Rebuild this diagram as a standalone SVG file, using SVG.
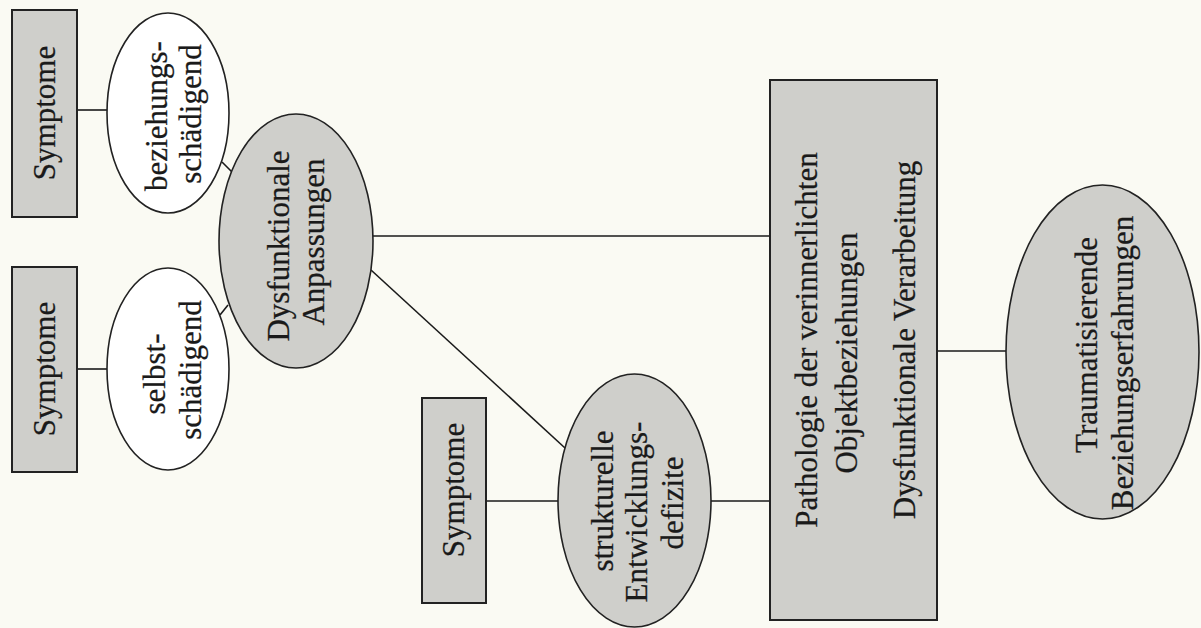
<svg xmlns="http://www.w3.org/2000/svg" width="1201" height="628" viewBox="0 0 1201 628">
  <style>
    .bg { fill: #fafaf3; }
    .box { fill: #cfcfcb; stroke: #222; stroke-width: 2; }
    .oval { fill: #cfcfcb; stroke: #222; stroke-width: 1.6; }
    .oval-w { fill: #ffffff; stroke: #222; stroke-width: 1.6; }
    .edge { stroke: #1a1a1a; stroke-width: 1.6; fill: none; }
    text { font-family: "Liberation Serif", "Times New Roman", serif; font-size: 31px; fill: #1a1a1a; stroke: #1a1a1a; stroke-width: 0.25; text-anchor: middle; }
  </style>
  <rect class="bg" x="0" y="0" width="1201" height="628"/>

  <!-- connectors -->
  <g id="connectors">
    <line class="edge" x1="77" y1="110" x2="107" y2="110"/>
    <line class="edge" x1="77" y1="369" x2="107" y2="369"/>
    <line class="edge" x1="222" y1="162" x2="232" y2="172"/>
    <line class="edge" x1="220" y1="315" x2="228" y2="305"/>
    <line class="edge" x1="373" y1="236" x2="770" y2="236"/>
    <line class="edge" x1="371" y1="270" x2="565" y2="448"/>
    <line class="edge" x1="486" y1="501" x2="558" y2="501"/>
    <line class="edge" x1="711" y1="501" x2="770" y2="501"/>
    <line class="edge" x1="937" y1="351" x2="1006" y2="351"/>
  </g>

  <!-- symptom boxes -->
  <g id="symptome-1">
    <rect class="box" x="12" y="10" width="65" height="207"/>
    <text transform="rotate(-90 55 113)" x="55" y="113">Symptome</text>
  </g>
  <g id="symptome-2">
    <rect class="box" x="12" y="267" width="65" height="205"/>
    <text transform="rotate(-90 55 369)" x="55" y="369">Symptome</text>
  </g>
  <g id="symptome-3">
    <rect class="box" x="422" y="398" width="64" height="205"/>
    <text transform="rotate(-90 464 490)" x="464" y="490">Symptome</text>
  </g>

  <!-- white ovals -->
  <g id="beziehungsschaedigend">
    <ellipse class="oval-w" cx="168" cy="113" rx="61" ry="100"/>
    <text transform="rotate(-90 167 116)" x="167" y="116">beziehungs-</text>
    <text transform="rotate(-90 201 114)" x="201" y="114">schädigend</text>
  </g>
  <g id="selbstschaedigend">
    <ellipse class="oval-w" cx="168" cy="369" rx="61" ry="101"/>
    <text transform="rotate(-90 165 374)" x="165" y="374">selbst-</text>
    <text transform="rotate(-90 201 370)" x="201" y="370">schädigend</text>
  </g>

  <!-- grey ovals -->
  <g id="dysfunktionale-anpassungen">
    <ellipse class="oval" cx="296" cy="241" rx="77" ry="127"/>
    <text transform="rotate(-90 289 246)" x="289" y="246">Dysfunktionale</text>
    <text transform="rotate(-90 324 242)" x="324" y="242">Anpassungen</text>
  </g>
  <g id="strukturelle-entwicklungsdefizite">
    <ellipse class="oval" cx="634.5" cy="500.5" rx="76.5" ry="126.5"/>
    <text transform="rotate(-90 613 501)" x="613" y="501">strukturelle</text>
    <text transform="rotate(-90 647 512)" x="647" y="512">Entwicklungs-</text>
    <text transform="rotate(-90 683 503)" x="683" y="503">defizite</text>
  </g>

  <!-- central box -->
  <g id="pathologie">
    <rect class="box" x="770" y="80" width="167" height="540"/>
    <text transform="rotate(-90 817 340)" x="817" y="340">Pathologie der verinnerlichten</text>
    <text transform="rotate(-90 857 353)" x="857" y="353">Objektbeziehungen</text>
    <text transform="rotate(-90 915 340)" x="915" y="340">Dysfunktionale Verarbeitung</text>
  </g>

  <g id="traumatisierende-beziehungserfahrungen">
    <ellipse class="oval" cx="1102.5" cy="352" rx="96.5" ry="167"/>
    <text transform="rotate(-90 1097 345)" x="1097" y="345">Traumatisierende</text>
    <text transform="rotate(-90 1133 363)" x="1133" y="363">Beziehungserfahrungen</text>
  </g>
</svg>
